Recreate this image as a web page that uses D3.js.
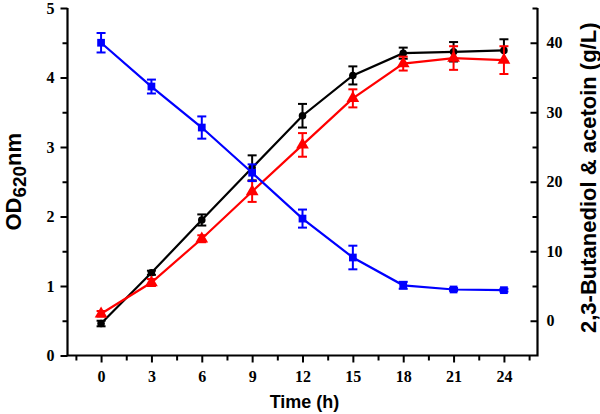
<!DOCTYPE html>
<html><head><meta charset="utf-8">
<script src="https://cdn.jsdelivr.net/npm/d3@7"></script>
<style>body{margin:0;background:#fff}svg{display:block}</style>
</head><body>
<svg id="c" width="600" height="414"></svg>
<script>
const times = [0, 3, 6, 9, 12, 15, 18, 21, 24];
const odValues = [0.46, 1.19, 1.95, 2.70, 3.45, 4.03, 4.35, 4.37, 4.39];
const odErrors = [0.04, 0.03, 0.08, 0.18, 0.17, 0.13, 0.08, 0.14, 0.16];
const bdValues = [1.0, 5.5, 11.8, 18.6, 25.3, 32.0, 37.0, 37.8, 37.5];
const bdErrors = [0.4, 0.5, 0.5, 1.5, 1.7, 1.3, 1.0, 1.7, 2.0];
const glcValues = [40.0, 33.7, 27.8, 21.3, 14.7, 9.1, 5.1, 4.5, 4.4];
const glcErrors = [1.4, 1.0, 1.6, 1.2, 1.3, 1.7, 0.5, 0.2, 0.2];
const xTicks = [0, 3, 6, 9, 12, 15, 18, 21, 24];
const yLeftTicks = [0, 1, 2, 3, 4, 5];
const yRightTicks = [0, 10, 20, 30, 40];

const svg = d3.select("#c");
const L = 67.5, R = 537.5, T = 8, B = 355.5;
const x = d3.scaleLinear().domain([-2, 26]).range([L, R]);
const yL = d3.scaleLinear().domain([0, 5]).range([B, T]);
const yR = d3.scaleLinear().domain([-5, 45]).range([B, T]);

const serif = "'Liberation Serif','Times New Roman',serif";
const sans = "'Liberation Sans',Arial,sans-serif";
const fmt = d3.format("d");

function styleAxis(g){
  g.select(".domain").remove();
  g.selectAll("line").attr("stroke","#000").attr("stroke-width",2);
  g.selectAll("text").attr("font-family",serif).attr("font-weight","bold").attr("font-size",16).attr("fill","#000");
}
const gx = svg.append("g").attr("transform",`translate(0,${B})`);
gx.call(d3.axisBottom(x).tickValues(xTicks).tickFormat(fmt).tickSize(7).tickPadding(8)).call(styleAxis);
gx.append("g").call(d3.axisBottom(x).tickValues(d3.range(-1.5,26,3)).tickSize(5).tickFormat("")).call(styleAxis);
const gl = svg.append("g").attr("transform",`translate(${L},0)`);
gl.call(d3.axisLeft(yL).tickValues(yLeftTicks).tickFormat(fmt).tickSize(7).tickPadding(6)).call(styleAxis);
gl.append("g").call(d3.axisLeft(yL).tickValues(d3.range(0.5,5,1)).tickSize(5).tickFormat("")).call(styleAxis);
const gr = svg.append("g").attr("transform",`translate(${R},0)`);
gr.call(d3.axisRight(yR).tickValues(yRightTicks).tickFormat(fmt).tickSize(-7).tickPadding(9)).call(styleAxis);
gr.append("g").call(d3.axisRight(yR).tickValues(d3.range(5,46,10)).tickSize(-5).tickFormat("")).call(styleAxis);

svg.append("path").attr("d",`M${L},${T}V${B}H${R}V${T}`).attr("fill","none").attr("stroke","#000").attr("stroke-width",2.2);

svg.append("text").attr("x",(L+R)/2+2).attr("y",408).attr("text-anchor","middle")
  .attr("font-family",sans).attr("font-weight","bold").attr("font-size",18).text("Time (h)");
const od = svg.append("text").attr("transform",`translate(21,${(T+B)/2}) rotate(-90)`).attr("text-anchor","middle")
  .attr("font-family",sans).attr("font-weight","bold").attr("font-size",22).attr("fill","#000");
od.append("tspan").text("OD");
od.append("tspan").attr("font-size",19).attr("dy",5).text("620");
od.append("tspan").attr("dy",-5).text("nm");
svg.append("text").attr("transform",`translate(596,${(T+B)/2-4}) rotate(-90)`).attr("text-anchor","middle")
  .attr("font-family",sans).attr("font-weight","bold").attr("font-size",22).text("2,3-Butanediol & acetoin (g/L)");

function series(vals, errs, yScale, color, shape, size){
  const pts = times.map((t,i)=>({t, v: vals[i], e: errs[i]}));
  const g = svg.append("g");
  g.append("path").datum(pts)
    .attr("d", d3.line().x(d=>x(d.t)).y(d=>yScale(d.v)))
    .attr("fill","none").attr("stroke",color).attr("stroke-width",2.2);
  const eb = g.selectAll(".eb").data(pts).enter().append("g");
  eb.append("line").attr("x1",d=>x(d.t)).attr("x2",d=>x(d.t))
    .attr("y1",d=>yScale(d.v+d.e)).attr("y2",d=>yScale(d.v-d.e)).attr("stroke",color).attr("stroke-width",2);
  [1,-1].forEach(s=>{
    eb.append("line").attr("x1",d=>x(d.t)-4.5).attr("x2",d=>x(d.t)+4.5)
      .attr("y1",d=>yScale(d.v+s*d.e)).attr("y2",d=>yScale(d.v+s*d.e)).attr("stroke",color).attr("stroke-width",2);
  });
  g.selectAll(".m").data(pts).enter().append("path")
    .attr("transform",d=>`translate(${x(d.t)},${yScale(d.v)})`)
    .attr("d", d3.symbol().type(shape).size(size))
    .attr("fill",color);
}
series(odValues, odErrors, yL, "#000000", d3.symbolCircle, 45);
series(bdValues, bdErrors, yR, "#ff0000", d3.symbolTriangle, 70);
series(glcValues, glcErrors, yR, "#0000ff", d3.symbolSquare, 60);
</script>
</body></html>
